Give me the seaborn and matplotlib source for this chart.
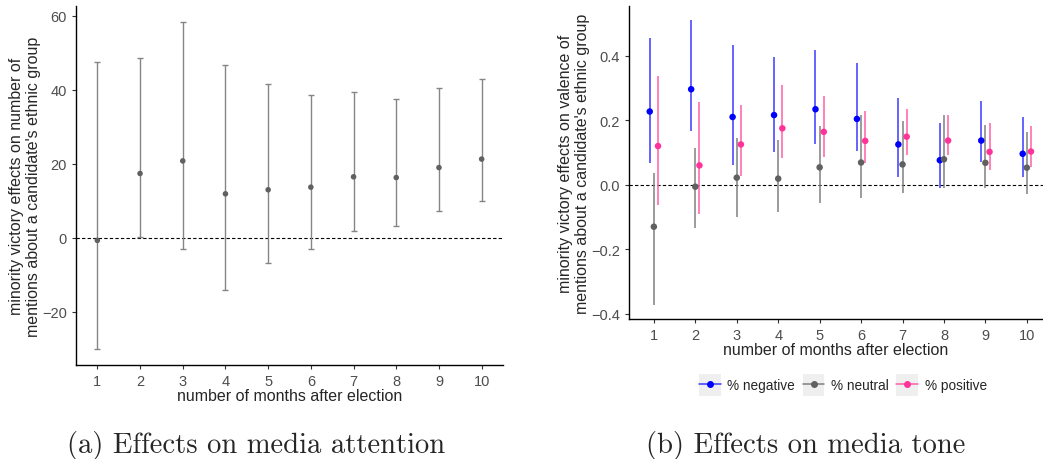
import numpy as np
import pandas as pd
import matplotlib
matplotlib.use("Agg")
import matplotlib.pyplot as plt
from matplotlib.lines import Line2D
from matplotlib.patches import Rectangle
from matplotlib.legend_handler import HandlerLine2D
import seaborn as sns

# ---- data ----
months = [1, 2, 3, 4, 5, 6, 7, 8, 9, 10]

# (a) media attention
attention_est = [-0.7, 17.4, 20.8, 11.9, 13.0, 13.7, 16.5, 16.3, 19.0, 21.3]
attention_lo = [-30.0, 0.1, -2.9, -14.0, -6.9, -2.9, 1.9, 3.3, 7.2, 10.0]
attention_hi = [47.5, 48.6, 58.3, 46.8, 41.7, 38.6, 39.4, 37.5, 40.5, 43.0]

# (b) media tone
neg_est = [0.227, 0.296, 0.210, 0.216, 0.234, 0.204, 0.125, 0.076, 0.137, 0.096]
neg_lo = [0.067, 0.168, 0.061, 0.101, 0.125, 0.104, 0.024, -0.009, 0.071, 0.023]
neg_hi = [0.454, 0.512, 0.432, 0.397, 0.418, 0.377, 0.269, 0.191, 0.259, 0.209]

neu_est = [-0.130, -0.006, 0.022, 0.019, 0.054, 0.069, 0.063, 0.079, 0.068, 0.053]
neu_lo = [-0.374, -0.135, -0.100, -0.084, -0.057, -0.040, -0.025, -0.010, -0.011, -0.028]
neu_hi = [0.036, 0.114, 0.145, 0.138, 0.182, 0.215, 0.197, 0.215, 0.185, 0.163]

pos_est = [0.120, 0.060, 0.125, 0.175, 0.164, 0.136, 0.149, 0.137, 0.102, 0.103]
pos_lo = [-0.062, -0.092, 0.028, 0.082, 0.087, 0.069, 0.093, 0.091, 0.045, 0.055]
pos_hi = [0.338, 0.258, 0.248, 0.308, 0.275, 0.228, 0.235, 0.215, 0.190, 0.182]

tone_labels = ["% negative", "% neutral", "% positive"]

# ---- style ----
sns.set_style("ticks")
plt.rcParams.update({
    "font.family": ["Liberation Sans", "DejaVu Sans"],
    "axes.linewidth": 1.0,
    "axes.edgecolor": "black",
    "xtick.color": "#333333",
    "ytick.color": "#333333",
    "xtick.labelcolor": "#4D4D4D",
    "ytick.labelcolor": "#4D4D4D",
    "xtick.major.size": 3,
    "ytick.major.size": 3,
    "xtick.major.width": 0.8,
    "ytick.major.width": 0.8,
    "xtick.labelsize": 10.5,
    "ytick.labelsize": 10.5,
    "axes.labelsize": 11.5,
})

palette = {"% negative": "#0000FF", "% neutral": "#606060", "% positive": "#FF3399"}
line_cols = {"% negative": "#3A3AFF", "% neutral": "#808080", "% positive": "#FF5FA8"}
dodge = {"% negative": -0.1, "% neutral": 0.0, "% positive": 0.1}

W, H = 1043, 460
fig = plt.figure(figsize=(W / 100, H / 100), dpi=100)
ax1 = fig.add_axes([76 / W, (H - 366) / H, (503 - 76) / W, (366 - 7) / H])
ax2 = fig.add_axes([629 / W, (H - 320) / H, (W - 629) / W, (320 - 7) / H])

# ---- (a) ----
att = pd.DataFrame({"month": months, "est": attention_est,
                    "lo": attention_lo, "hi": attention_hi})
ax1.axhline(0, color="black", ls=(0, (3, 2)), lw=0.8, zorder=1)
ax1.errorbar(att["month"], att["est"],
             yerr=[att["est"] - att["lo"], att["hi"] - att["est"]],
             fmt="none", ecolor="#858585", elinewidth=1.0, capsize=2.4,
             capthick=1.0, zorder=2)
sns.scatterplot(data=att, x="month", y="est", ax=ax1, color="#606060",
                s=16, edgecolor="none", zorder=3)
ax1.set_xlim(0.5, 10.5)
ax1.set_ylim(-34.4, 62.7)
ax1.set_xticks(months)
ax1.set_yticks([-20, 0, 20, 40, 60])
ax1.set_xlabel("number of months after election", labelpad=0)
ax1.set_ylabel("minority victory effects on number of\n"
               "mentions about a candidate's ethnic group", labelpad=0.5)

# ---- (b) ----
tone = pd.concat([
    pd.DataFrame({"month": months, "est": neg_est, "lo": neg_lo, "hi": neg_hi,
                  "tone": tone_labels[0]}),
    pd.DataFrame({"month": months, "est": neu_est, "lo": neu_lo, "hi": neu_hi,
                  "tone": tone_labels[1]}),
    pd.DataFrame({"month": months, "est": pos_est, "lo": pos_lo, "hi": pos_hi,
                  "tone": tone_labels[2]}),
], ignore_index=True)
tone["x"] = tone["month"] + tone["tone"].map(dodge)

ax2.axhline(0, color="black", ls=(0, (3, 2)), lw=0.8, zorder=1)
for lab in tone_labels:
    sub = tone[tone["tone"] == lab]
    ax2.vlines(sub["x"], sub["lo"], sub["hi"], color=line_cols[lab], lw=1.1, zorder=2)
sns.scatterplot(data=tone, x="x", y="est", hue="tone", palette=palette,
                hue_order=tone_labels, ax=ax2, s=22, edgecolor="none",
                zorder=3, legend=False)
ax2.set_xlim(0.4, 10.39)
ax2.set_ylim(-0.416, 0.554)
ax2.set_xticks(months)
ax2.set_yticks([-0.4, -0.2, 0.0, 0.2, 0.4])
ax2.set_yticklabels(["\u22120.4", "\u22120.2", "0.0", "0.2", "0.4"])
ax2.set_xlabel("number of months after election", labelpad=0)
ax2.set_ylabel("minority victory effects on valence of\n"
               "mentions about a candidate's ethnic group", labelpad=0.5)

for ax in (ax1, ax2):
    sns.despine(ax=ax)


class KeyHandler(HandlerLine2D):
    """ggplot-like legend key with grey background."""
    def create_artists(self, legend, orig_handle, xdescent, ydescent,
                       width, height, fontsize, trans):
        arts = super().create_artists(legend, orig_handle, xdescent, ydescent,
                                      width, height, fontsize, trans)
        bg = Rectangle((-xdescent, -ydescent - 0.3 * height), width, height * 1.6,
                       facecolor="#EFEFEF", edgecolor="none", transform=trans)
        return [bg] + arts


handles = [Line2D([], [], color=line_cols[l], marker="o", markersize=4,
                  markerfacecolor=palette[l], markeredgecolor=palette[l], lw=1.1)
           for l in tone_labels]
fig.legend(handles, tone_labels, loc="center", bbox_to_anchor=(843 / W, 1 - 386 / H),
           ncol=3, frameon=False, fontsize=9.8, handlelength=1.6, handleheight=1.2,
           handletextpad=0.5, columnspacing=0.55,
           handler_map={Line2D: KeyHandler()})

# ---- captions ----
cap_font = ["cmr10", "DejaVu Serif"]
fig.text(256 / W, 1 - 446 / H, "(a) Effects on media attention", ha="center",
         va="center", fontsize=20.6, family=cap_font)
fig.text(806 / W, 1 - 446 / H, "(b) Effects on media tone", ha="center",
         va="center", fontsize=20.6, family=cap_font)

fig.savefig("out.png", dpi=100)
